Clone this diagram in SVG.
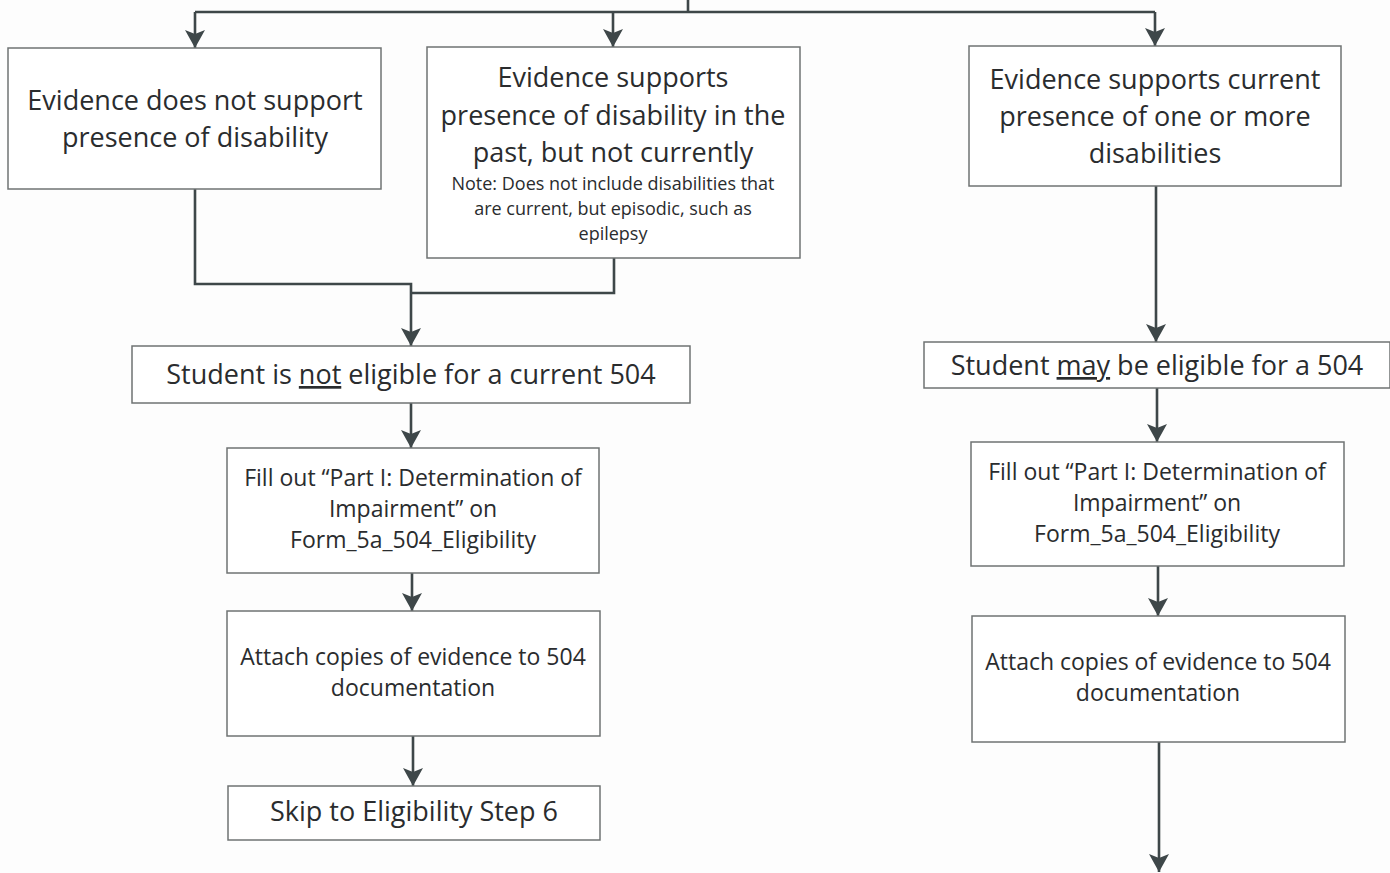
<svg xmlns="http://www.w3.org/2000/svg" width="1390" height="873" viewBox="0 0 1390 873">
  <style>
    .box { fill: #ffffff; stroke: #6f7373; stroke-width: 1.5; }
    .t { font-family: "Open Sans", Lato, "Liberation Sans", sans-serif; fill: #2a2c2e; text-anchor: middle; }
    .big { font-size: 27px; }
    .mid { font-size: 23px; }
    .sm { font-size: 18px; }
    .wire { fill: none; stroke: #3e4749; stroke-width: 2.6; }
    .u { text-decoration: underline; }
  </style>
  <defs>
    <marker id="arrow" markerUnits="userSpaceOnUse" markerWidth="20" markerHeight="20" refX="18" refY="10" orient="auto">
      <path d="M0 0 L18 10 L0 20 L4 10 Z" fill="#3e4749"/>
    </marker>
  </defs>

  <rect width="1390" height="873" fill="#fdfdfd"/>

  <!-- connectors -->
  <g id="connectors" class="wire">
    <path d="M688 0 V12"/>
    <path d="M195 12 H1155"/>
    <path d="M195 12 V48" marker-end="url(#arrow)"/>
    <path d="M613 12 V47" marker-end="url(#arrow)"/>
    <path d="M1155 12 V46" marker-end="url(#arrow)"/>
    <path d="M614 258 V293 H411"/>
    <path d="M195 189 V284 H411 V346" marker-end="url(#arrow)"/>
    <path d="M411 403 V448" marker-end="url(#arrow)"/>
    <path d="M412 573 V611" marker-end="url(#arrow)"/>
    <path d="M413 736 V786" marker-end="url(#arrow)"/>
    <path d="M1156 186 V342" marker-end="url(#arrow)"/>
    <path d="M1157 388 V442" marker-end="url(#arrow)"/>
    <path d="M1158 566 V616" marker-end="url(#arrow)"/>
    <path d="M1159 742 V872" marker-end="url(#arrow)"/>
  </g>

  <!-- left column -->
  <g id="no-support">
    <rect class="box" x="8" y="48" width="373" height="141"/>
    <text class="t big" x="195" y="110">Evidence does not support</text>
    <text class="t big" x="195" y="147">presence of disability</text>
  </g>

  <g id="past-support">
    <rect class="box" x="427" y="47" width="373" height="211"/>
    <text class="t big" x="613" y="87">Evidence supports</text>
    <text class="t big" x="613" y="125">presence of disability in the</text>
    <text class="t big" x="613" y="162">past, but not currently</text>
    <text class="t sm" x="613" y="190">Note: Does not include disabilities that</text>
    <text class="t sm" x="613" y="215">are current, but episodic, such as</text>
    <text class="t sm" x="613" y="240">epilepsy</text>
  </g>

  <g id="not-eligible">
    <rect class="box" x="132" y="346" width="558" height="57"/>
    <text class="t big" x="411" y="384">Student is <tspan class="u">not</tspan> eligible for a current 504</text>
  </g>

  <g id="fill-out-left">
    <rect class="box" x="227" y="448" width="372" height="125"/>
    <text class="t mid" x="413" y="486">Fill out “Part I: Determination of</text>
    <text class="t mid" x="413" y="517">Impairment” on</text>
    <text class="t mid" x="413" y="548">Form_5a_504_Eligibility</text>
  </g>

  <g id="attach-left">
    <rect class="box" x="227" y="611" width="373" height="125"/>
    <text class="t mid" x="413" y="665">Attach copies of evidence to 504</text>
    <text class="t mid" x="413" y="696">documentation</text>
  </g>

  <g id="skip-step-6">
    <rect class="box" x="228" y="786" width="372" height="54"/>
    <text class="t big" x="414" y="821">Skip to Eligibility Step 6</text>
  </g>

  <!-- right column -->
  <g id="current-support">
    <rect class="box" x="969" y="46" width="372" height="140"/>
    <text class="t big" x="1155" y="89">Evidence supports current</text>
    <text class="t big" x="1155" y="126">presence of one or more</text>
    <text class="t big" x="1155" y="163">disabilities</text>
  </g>

  <g id="may-be-eligible">
    <rect class="box" x="924" y="342" width="466" height="46"/>
    <text class="t big" x="1157" y="375">Student <tspan class="u">may</tspan> be eligible for a 504</text>
  </g>

  <g id="fill-out-right">
    <rect class="box" x="971" y="442" width="373" height="124"/>
    <text class="t mid" x="1157" y="480">Fill out “Part I: Determination of</text>
    <text class="t mid" x="1157" y="511">Impairment” on</text>
    <text class="t mid" x="1157" y="542">Form_5a_504_Eligibility</text>
  </g>

  <g id="attach-right">
    <rect class="box" x="972" y="616" width="373" height="126"/>
    <text class="t mid" x="1158" y="670">Attach copies of evidence to 504</text>
    <text class="t mid" x="1158" y="701">documentation</text>
  </g>
</svg>
